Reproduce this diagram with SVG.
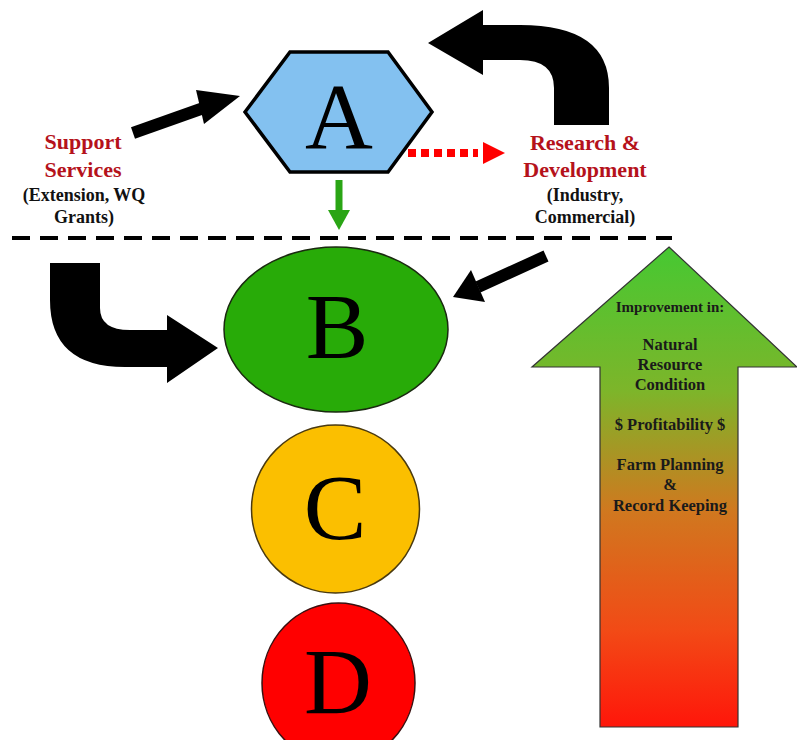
<svg xmlns="http://www.w3.org/2000/svg" width="797" height="740" viewBox="0 0 797 740">
<defs>
<linearGradient id="grad" x1="0" y1="0" x2="0" y2="1">
<stop offset="0" stop-color="#46c832"/>
<stop offset="0.3" stop-color="#7db52a"/>
<stop offset="0.55" stop-color="#d0781f"/>
<stop offset="0.8" stop-color="#f24a16"/>
<stop offset="1" stop-color="#ff160a"/>
</linearGradient>
</defs>
<style>
.big{font-family:"Liberation Serif",serif;font-size:94px;text-anchor:middle;fill:#000}
.red{font-family:"Liberation Serif",serif;font-weight:bold;font-size:22px;fill:#b5121b;text-anchor:middle}
.sub{font-family:"Liberation Serif",serif;font-weight:bold;font-size:18px;fill:#111;text-anchor:middle}
.imp{font-family:"Liberation Serif",serif;font-weight:bold;font-size:16.5px;fill:#1a1a1a;text-anchor:middle}
</style>
<rect width="797" height="740" fill="#fff"/>
<g id="connectors">
<line x1="12" y1="238" x2="672" y2="238" stroke="#000" stroke-width="4" stroke-dasharray="18 10"/>
<path d="M133,133 L212,105" stroke="#000" stroke-width="12"/>
<path d="M240,96 L204,124 L196,90 Z" fill="#000"/>
<path d="M554,125 L554,88 Q554,60 520,60 L483,60 L483,75 L428,43 L483,10 L483,25 L520,25 Q609,25 609,88 L609,125 Z" fill="#000"/>
<line x1="408" y1="153" x2="478" y2="153" stroke="#f00" stroke-width="8" stroke-dasharray="8 5"/>
<path d="M505,153 L483,142 L483,164 Z" fill="#f00"/>
<line x1="339" y1="180" x2="339" y2="212" stroke="#2aa515" stroke-width="7"/>
<path d="M328,210 L350,210 L339,230 Z" fill="#2aa515"/>
<path d="M50,263 L100,263 L100,308 Q100,330 130,330 L167,330 L167,315 L218,348 L167,383 L167,367 L125,367 Q50,367 50,300 Z" fill="#000"/>
<path d="M546,256 L478,287" stroke="#000" stroke-width="12"/>
<path d="M453,297 L471,270 L485,302 Z" fill="#000"/>
</g>
<g id="nodeA">
<polygon points="245,112 290,52 388,52 432,112 388,172 290,172" fill="#83c1f0" stroke="#000" stroke-width="3.5"/>
<text class="big" x="339" y="148">A</text>
</g>
<g id="nodeB">
<ellipse cx="336" cy="329.5" rx="112" ry="82.5" fill="#28ab08" stroke="#1a2a10" stroke-width="1.5"/>
<text class="big" x="337" y="358">B</text>
</g>
<g id="nodeC">
<circle cx="335.5" cy="509" r="84" fill="#fbbf00" stroke="#4a3a10" stroke-width="1.5"/>
<text class="big" x="335" y="539">C</text>
</g>
<g id="nodeD">
<ellipse cx="338.5" cy="683" rx="76.5" ry="80" fill="#ff0000" stroke="#3a1010" stroke-width="1.5"/>
<text class="big" x="338" y="713">D</text>
</g>
<g id="support">
<text class="red" x="83" y="149">Support</text>
<text class="red" x="83" y="177">Services</text>
<text class="sub" x="84" y="201">(Extension, WQ</text>
<text class="sub" x="84" y="223">Grants)</text>
</g>
<g id="research">
<text class="red" x="585" y="150">Research &amp;</text>
<text class="red" x="585" y="177">Development</text>
<text class="sub" x="585" y="201">(Industry,</text>
<text class="sub" x="585" y="223">Commercial)</text>
</g>
<g id="improvement">
<path d="M669,247 L797,367 L738,367 L738,727 L600,727 L600,367 L532,367 Z" fill="url(#grad)" stroke="#333" stroke-width="1.2"/>
<text class="imp" x="670" y="312" style="font-size:15px">Improvement in:</text>
<text class="imp" x="670" y="350">Natural</text>
<text class="imp" x="670" y="370">Resource</text>
<text class="imp" x="670" y="390">Condition</text>
<text class="imp" x="670" y="430">$ Profitability $</text>
<text class="imp" x="670" y="470">Farm Planning</text>
<text class="imp" x="670" y="490">&amp;</text>
<text class="imp" x="670" y="511">Record Keeping</text>
</g>
</svg>
